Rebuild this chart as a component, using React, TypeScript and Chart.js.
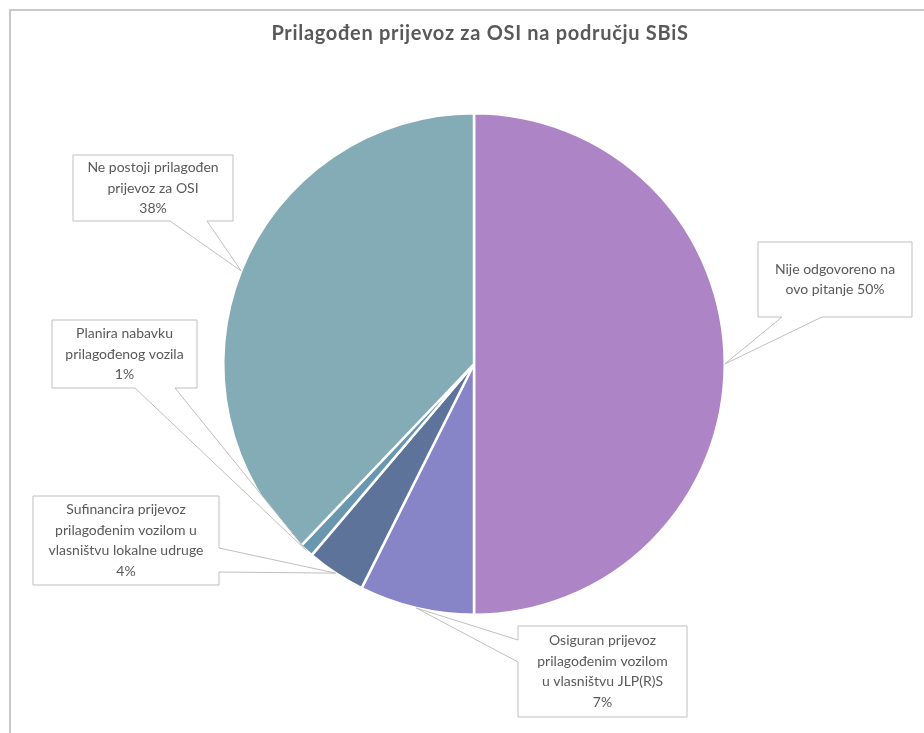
import React, { useEffect, useRef } from "react";
import { Chart, registerables } from "chart.js";

Chart.register(...registerables);

const title = "Prilagođen prijevoz za OSI na području SBiS";
const categories = [
  "Nije odgovoreno na ovo pitanje",
  "Osiguran prijevoz prilagođenim vozilom u vlasništvu JLP(R)S",
  "Sufinancira prijevoz prilagođenim vozilom u vlasništvu lokalne udruge",
  "Planira nabavku prilagođenog vozila",
  "Ne postoji prilagođen prijevoz za OSI",
];
const values = [50, 7.4, 3.8, 0.9, 37.9];
const colors = ["#AD84C6", "#8784C7", "#5D739A", "#6997AF", "#84ACB6"];
// display lines of each data label; {p} is replaced by the percentage
const labelLines = [
  ["Nije odgovoreno na", "ovo pitanje {p}"],
  ["Osiguran prijevoz", "prilagođenim vozilom", "u vlasništvu JLP(R)S", "{p}"],
  ["Sufinancira prijevoz", "prilagođenim vozilom u", "vlasništvu lokalne udruge", "{p}"],
  ["Planira nabavku", "prilagođenog vozila", "{p}"],
  ["Ne postoji prilagođen", "prijevoz za OSI", "{p}"],
];

// callout boxes: x, y, w, h, side of wedge, wedge base positions along that side
const callouts = [
  { x: 758, y: 242, w: 154, h: 75, side: "bottom", b1: 782, b2: 822 },
  { x: 518, y: 626, w: 169, h: 91, side: "left", b1: 640, b2: 662 },
  { x: 33, y: 496, w: 186, h: 89, side: "right", b1: 548, b2: 572 },
  { x: 52, y: 320, w: 145, h: 68, side: "bottom", b1: 135, b2: 175 },
  { x: 73, y: 155, w: 160, h: 66, side: "bottom", b1: 170, b2: 207 },
];

const FONT = "Lato, 'Open Sans', sans-serif";

const calloutPlugin = {
  id: "callouts",
  beforeDraw(chart: any) {
    const ctx = chart.ctx;
    ctx.save();
    ctx.fillStyle = "#ffffff";
    ctx.fillRect(0, 0, chart.width, chart.height);
    ctx.strokeStyle = "#c9c9c9";
    ctx.lineWidth = 2;
    ctx.beginPath();
    ctx.moveTo(10, chart.height + 5);
    ctx.lineTo(10, 10);
    ctx.lineTo(chart.width + 5, 10);
    ctx.stroke();
    ctx.fillStyle = "#595959";
    ctx.font = `bold 20px ${FONT}`;
    ctx.textAlign = "center";
    ctx.textBaseline = "middle";
    try {
      (ctx as any).letterSpacing = "0.7px";
    } catch (e) {}
    ctx.fillText(title, 480, 34);
    try {
      (ctx as any).letterSpacing = "0px";
    } catch (e) {}
    ctx.restore();
  },
  afterDatasetsDraw(chart: any) {
    const ctx = chart.ctx;
    const meta = chart.getDatasetMeta(0);
    const total = values.reduce((a, b) => a + b, 0);
    ctx.save();
    meta.data.forEach((arc: any, i: number) => {
      const c = callouts[i];
      if (!c) return;
      const mid = (arc.startAngle + arc.endAngle) / 2;
      const tx = arc.x + Math.cos(mid) * arc.outerRadius;
      const ty = arc.y + Math.sin(mid) * arc.outerRadius;
      const { x, y, w, h } = c;
      ctx.beginPath();
      if (c.side === "bottom") {
        ctx.moveTo(x, y);
        ctx.lineTo(x + w, y);
        ctx.lineTo(x + w, y + h);
        ctx.lineTo(c.b2, y + h);
        ctx.lineTo(tx, ty);
        ctx.lineTo(c.b1, y + h);
        ctx.lineTo(x, y + h);
      } else if (c.side === "right") {
        ctx.moveTo(x, y);
        ctx.lineTo(x + w, y);
        ctx.lineTo(x + w, c.b1);
        ctx.lineTo(tx, ty);
        ctx.lineTo(x + w, c.b2);
        ctx.lineTo(x + w, y + h);
        ctx.lineTo(x, y + h);
      } else {
        ctx.moveTo(x, y);
        ctx.lineTo(x + w, y);
        ctx.lineTo(x + w, y + h);
        ctx.lineTo(x, y + h);
        ctx.lineTo(x, c.b2);
        ctx.lineTo(tx, ty);
        ctx.lineTo(x, c.b1);
      }
      ctx.closePath();
      ctx.fillStyle = "#ffffff";
      ctx.fill();
      ctx.strokeStyle = "#bfbfbf";
      ctx.lineWidth = 1;
      ctx.stroke();

      const pct = Math.round((values[i] / total) * 100) + "%";
      const lines = labelLines[i].map((l) => l.replace("{p}", pct));
      ctx.fillStyle = "#595959";
      ctx.font = `14px ${FONT}`;
      ctx.textAlign = "center";
      ctx.textBaseline = "middle";
      const lh = 20.5;
      const startY = y + h / 2 - ((lines.length - 1) * lh) / 2;
      lines.forEach((l, k) => ctx.fillText(l, x + w / 2, startY + k * lh));
    });
    ctx.restore();
  },
};

export default function App() {
  const ref = useRef<HTMLCanvasElement>(null);
  useEffect(() => {
    document.body.style.margin = "0";
    const chart = new Chart(ref.current as HTMLCanvasElement, {
      type: "pie",
      data: {
        labels: categories,
        datasets: [
          {
            data: values,
            backgroundColor: colors,
            borderColor: "#ffffff",
            borderWidth: 2.5,
          },
        ],
      },
      options: {
        animation: false,
        responsive: false,
        layout: { padding: { top: 112, bottom: 117, left: 222, right: 198 } },
        plugins: { legend: { display: false }, tooltip: { enabled: false }, title: { display: false } },
      },
      plugins: [calloutPlugin],
    });
    return () => chart.destroy();
  }, []);
  return (
    <div style={{ width: 924, height: 733 }}>
      <canvas ref={ref} width={924} height={733} style={{ display: "block" }} />
    </div>
  );
}
